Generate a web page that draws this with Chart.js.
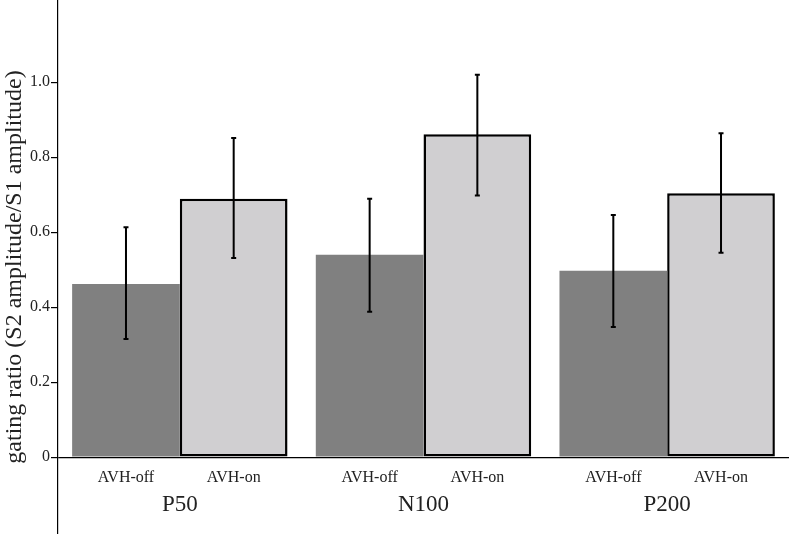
<!DOCTYPE html>
<html>
<head>
<meta charset="utf-8">
<script src="https://cdn.jsdelivr.net/npm/chart.js@4"></script>
<style>
  html, body { margin: 0; padding: 0; background: #fff; }
  #wrap { width: 800px; height: 534px; }
</style>
</head>
<body>
<div id="wrap"><canvas id="grafico" width="800" height="534"></canvas></div>
<script>
const grupos = ['P50', 'N100', 'P200'];
const condiciones = ['AVH-off', 'AVH-on'];
const mediaOff = [0.462, 0.540, 0.497];
const mediaOn = [0.689, 0.861, 0.704];
const errOffBajo = [0.315, 0.388, 0.347];
const errOffAlto = [0.613, 0.689, 0.646];
const errOnBajo = [0.531, 0.698, 0.545];
const errOnAlto = [0.851, 1.020, 0.864];
const marcasY = [0, 0.2, 0.4, 0.6, 0.8, 1.0];

const serif = '"Liberation Serif", "DejaVu Serif", serif';
const colorTexto = '#222';

// barras de error y etiquetas bajo el eje
const extras = {
    id: 'extras',
    afterDatasetsDraw(chart) {
        const ctx = chart.ctx;
        const y = chart.scales.y;
        const x = chart.scales.x;
        const base = y.getPixelForValue(0);
        const bajos = [errOffBajo, errOnBajo];
        const altos = [errOffAlto, errOnAlto];
        ctx.save();
        ctx.strokeStyle = '#000';
        ctx.lineWidth = 2;
        chart.data.datasets.forEach((ds, i) => {
            const meta = chart.getDatasetMeta(i);
            meta.data.forEach((barra, j) => {
                const y1 = y.getPixelForValue(bajos[i][j]);
                const y2 = y.getPixelForValue(altos[i][j]);
                ctx.beginPath();
                ctx.moveTo(barra.x, y1);
                ctx.lineTo(barra.x, y2);
                ctx.moveTo(barra.x - 2.5, y1);
                ctx.lineTo(barra.x + 2.5, y1);
                ctx.moveTo(barra.x - 2.5, y2);
                ctx.lineTo(barra.x + 2.5, y2);
                ctx.stroke();
                ctx.fillStyle = colorTexto;
                ctx.font = '16px ' + serif;
                ctx.textAlign = 'center';
                ctx.textBaseline = 'alphabetic';
                ctx.fillText(condiciones[i], barra.x, base + 25);
            });
        });
        ctx.font = '23px ' + serif;
        grupos.forEach((g, j) => {
            ctx.fillText(g, x.getPixelForValue(j), base + 54);
        });
        ctx.restore();
    }
};

new Chart(document.getElementById('grafico').getContext('2d'), {
    type: 'bar',
    data: {
        labels: grupos,
        datasets: [
            {
                label: condiciones[0],
                data: mediaOff,
                backgroundColor: '#808080',
                borderWidth: 0,
                barPercentage: 1.0,
                categoryPercentage: 0.884
            },
            {
                label: condiciones[1],
                data: mediaOn,
                backgroundColor: '#d0cfd1',
                borderColor: '#000',
                borderWidth: 2.5,
                borderSkipped: false,
                barPercentage: 1.0,
                categoryPercentage: 0.884
            }
        ]
    },
    options: {
        responsive: false,
        animation: false,
        devicePixelRatio: 1,
        layout: { padding: { top: 0, bottom: 0, left: 0, right: 11 } },
        plugins: {
            legend: { display: false },
            tooltip: { enabled: false }
        },
        scales: {
            x: {
                type: 'category',
                display: false
            },
            y: {
                min: -0.205,
                max: 1.219,
                afterBuildTicks(scale) {
                    scale.ticks = marcasY.map(v => ({ value: v }));
                },
                afterFit(scale) {
                    scale.width = 58;
                    scale.paddingTop = 0;
                    scale.paddingBottom = 0;
                },
                ticks: {
                    color: colorTexto,
                    font: { family: serif, size: 16 },
                    padding: 1,
                    callback: v => (v === 0 ? '0' : v.toFixed(1))
                },
                grid: {
                    drawOnChartArea: true,
                    color: c => (c.tick && c.tick.value === 0 ? '#000' : 'rgba(0,0,0,0)'),
                    tickColor: '#000',
                    tickLength: 7,
                    lineWidth: 1.2
                },
                border: { display: true, color: '#000', width: 1.2 },
                title: {
                    display: true,
                    text: 'gating ratio (S2 amplitude/S1 amplitude)',
                    color: colorTexto,
                    font: { family: serif, size: 24 },
                    padding: { top: 0, bottom: 0 }
                }
            }
        }
    },
    plugins: [extras]
});
</script>
</body>
</html>
